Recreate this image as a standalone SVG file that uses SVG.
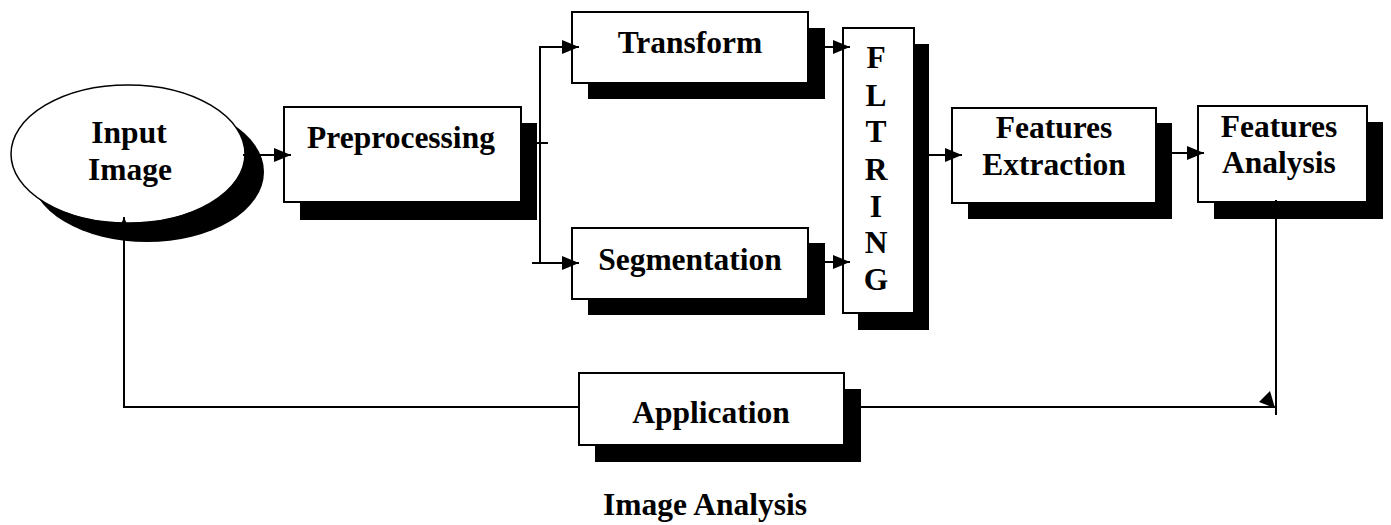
<svg xmlns="http://www.w3.org/2000/svg" width="1391" height="525" viewBox="0 0 1391 525">
<style>
.box{fill:#fff;stroke:#000;stroke-width:2}
.sh{fill:#000}
.t{font-family:"Liberation Serif","Times New Roman",serif;font-weight:bold;font-size:31.5px;fill:#000;text-anchor:middle}
.ln{fill:none;stroke:#000;stroke-width:2}
</style>
<defs>
<marker id="ah" markerUnits="userSpaceOnUse" markerWidth="17" markerHeight="14" refX="17" refY="7" orient="auto">
<path d="M0,0 L17,7 L0,14 z" fill="#000"/>
</marker>
</defs>
<rect width="1391" height="525" fill="#fff"/>
<g id="input-image">
<ellipse cx="147" cy="172" rx="117" ry="70" class="sh"/>
<ellipse cx="128" cy="154" rx="117" ry="69" fill="#fff" stroke="#000" stroke-width="1.5"/>
<text x="129" y="143" class="t">Input</text>
<text x="130" y="180" class="t">Image</text>
</g>
<g id="preprocessing">
<rect x="300" y="123" width="237" height="97" class="sh"/>
<rect x="284" y="107" width="237" height="95" class="box"/>
<text x="401" y="148" class="t">Preprocessing</text>
</g>
<g id="transform">
<rect x="588" y="28" width="237" height="71" class="sh"/>
<rect x="572" y="12" width="236" height="71" class="box"/>
<text x="690" y="53" class="t">Transform</text>
</g>
<g id="segmentation">
<rect x="588" y="243" width="237" height="72" class="sh"/>
<rect x="572" y="228" width="236" height="71" class="box"/>
<text x="690" y="270" class="t">Segmentation</text>
</g>
<g id="fltring">
<rect x="858" y="44" width="71" height="286" class="sh"/>
<rect x="843" y="28" width="71" height="285" class="box"/>
<text x="876" y="68" class="t">F</text>
<text x="876" y="106" class="t">L</text>
<text x="876" y="142" class="t">T</text>
<text x="876" y="180" class="t">R</text>
<text x="876" y="217" class="t">I</text>
<text x="876" y="253" class="t">N</text>
<text x="876" y="290" class="t">G</text>
</g>
<g id="features-extraction">
<rect x="968" y="123" width="204" height="96" class="sh"/>
<rect x="952" y="108" width="204" height="95" class="box"/>
<text x="1054" y="138" class="t">Features</text>
<text x="1054" y="175" class="t">Extraction</text>
</g>
<g id="features-analysis">
<rect x="1214" y="122" width="169" height="97" class="sh"/>
<rect x="1198" y="106" width="169" height="96" class="box"/>
<text x="1279" y="137" class="t">Features</text>
<text x="1279" y="173" class="t">Analysis</text>
</g>
<g id="application">
<rect x="595" y="389" width="266" height="73" class="sh"/>
<rect x="579" y="373" width="265" height="72" class="box"/>
<text x="711" y="423" class="t">Application</text>
</g>
<g id="connectors">
<line x1="243" y1="155" x2="291" y2="155" class="ln" marker-end="url(#ah)"/>
<line x1="537" y1="143" x2="548" y2="143" class="ln"/>
<line x1="540" y1="47" x2="540" y2="263" class="ln"/>
<line x1="539" y1="47" x2="579" y2="47" class="ln" marker-end="url(#ah)"/>
<line x1="532" y1="263" x2="579" y2="263" class="ln" marker-end="url(#ah)"/>
<line x1="825" y1="47" x2="850" y2="47" class="ln" marker-end="url(#ah)"/>
<line x1="825" y1="262" x2="850" y2="262" class="ln" marker-end="url(#ah)"/>
<line x1="929" y1="155" x2="962" y2="155" class="ln" marker-end="url(#ah)"/>
<line x1="1172" y1="153" x2="1204" y2="153" class="ln" marker-end="url(#ah)"/>
<line x1="1276" y1="200" x2="1276" y2="415" class="ln"/>
<line x1="861" y1="407" x2="1276" y2="407" class="ln"/>
<polygon points="1259,402 1270,391 1275,408" fill="#000"/>
<line x1="579" y1="407" x2="124" y2="407" class="ln"/>
<line x1="124" y1="408" x2="124" y2="217" class="ln" marker-end="url(#ah)"/>
</g>
<text x="705" y="515" class="t">Image Analysis</text>
</svg>
